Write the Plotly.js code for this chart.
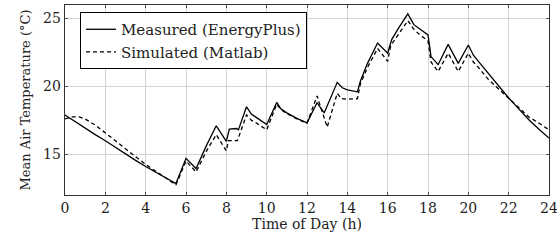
<!DOCTYPE html>
<html>
<head>
<meta charset="utf-8">
<script src="https://cdn.plot.ly/plotly-3.0.1.min.js"></script>
<style>html,body{margin:0;padding:0;background:#fff;}#chart{width:557px;height:241px;}</style>
</head>
<body>
<div id="chart"></div>
<script>
// Measured (EnergyPlus)
var measuredT = [0, 0.5, 1, 1.5, 2, 2.5, 3, 3.5, 4, 4.5, 5, 5.5, 6, 6.5, 7, 7.5, 8, 8.15, 8.5, 8.6, 9, 9.25, 9.5, 10, 10.5, 10.7, 11, 11.5, 12, 12.5, 12.85, 13.5, 13.75, 14, 14.5, 14.65, 15, 15.5, 16, 16.2, 16.5, 17, 17.3, 17.6, 18, 18.15, 18.5, 19, 19.5, 20, 20.25, 20.5, 21, 21.5, 22, 22.5, 23, 23.5, 24];
var measuredY = [17.9, 17.4, 16.95, 16.45, 16.0, 15.5, 15.05, 14.55, 14.1, 13.7, 13.3, 12.85, 14.7, 13.95, 15.6, 17.1, 15.95, 16.85, 16.9, 16.8, 18.5, 17.95, 17.7, 17.2, 18.82, 18.35, 18.05, 17.65, 17.32, 18.8, 18.05, 20.3, 19.9, 19.75, 19.6, 20.4, 21.7, 23.2, 22.45, 23.45, 24.2, 25.35, 24.55, 24.2, 23.8, 22.2, 21.6, 23.1, 21.7, 23.05, 22.3, 21.85, 20.95, 20.05, 19.15, 18.35, 17.55, 16.85, 16.2];
// Simulated (Matlab)
var simT = [0, 0.35, 0.7, 1, 1.5, 2, 2.5, 3, 3.5, 4, 4.5, 5, 5.5, 6, 6.5, 7, 7.5, 8, 8.1, 8.55, 9, 9.25, 9.5, 10, 10.5, 10.7, 11, 11.5, 12, 12.5, 13, 13.5, 13.7, 14, 14.5, 14.65, 15, 15.5, 16, 16.15, 16.5, 17, 17.3, 17.6, 18, 18.15, 18.5, 19, 19.5, 20, 20.25, 20.5, 21, 21.5, 22, 22.5, 23, 23.5, 24];
var simY = [17.6, 17.75, 17.75, 17.6, 17.15, 16.6, 16.0, 15.4, 14.8, 14.25, 13.75, 13.25, 12.75, 14.5, 13.7, 15.2, 16.45, 15.25, 16.0, 16.0, 17.9, 17.5, 17.3, 16.8, 18.7, 18.3, 18.0, 17.6, 17.3, 19.3, 17.0, 19.5, 19.1, 19.05, 19.1, 20.2, 21.4, 22.8, 21.85, 23.0, 23.8, 24.85, 24.2, 23.8, 23.35, 21.8, 21.1, 22.45, 21.1, 22.45, 21.8, 21.4, 20.5, 19.8, 19.1, 18.45, 17.75, 17.3, 16.8];

var xTicks = [0, 2, 4, 6, 8, 10, 12, 14, 16, 18, 20, 22, 24];
var yTicks = [15, 20, 25];

var serif = "DejaVu Serif";

var traces = [
  {x: measuredT, y: measuredY, type: 'scatter', mode: 'lines', name: 'Measured (EnergyPlus)',
   line: {color: '#000', width: 1.3}},
  {x: simT, y: simY, type: 'scatter', mode: 'lines', name: 'Simulated (Matlab)',
   line: {color: '#000', width: 1.3, dash: '4px,3px'}}
];

var axisCommon = {
  showgrid: true, gridcolor: '#d3d3d3', gridwidth: 1,
  showline: true, linecolor: '#333', linewidth: 1.3, mirror: 'ticks',
  ticks: 'inside', ticklen: 3, tickcolor: '#555', tickwidth: 1,
  zeroline: false, ticklabeloverflow: 'allow',
  tickfont: {family: serif, size: 14, color: '#222'}
};

var layout = {
  width: 557, height: 241,
  margin: {l: 65, r: 8, t: 5, b: 46},
  paper_bgcolor: '#fff', plot_bgcolor: '#fff',
  font: {family: serif, size: 14, color: '#222'},
  showlegend: true,
  legend: {x: 0.031, y: 0.963, xanchor: 'left', yanchor: 'top',
           bgcolor: '#fff', bordercolor: '#000', borderwidth: 1,
           font: {family: serif, size: 15, color: '#222'},
           tracegroupgap: 0, itemwidth: 30},
  xaxis: Object.assign({}, axisCommon, {
    range: [0, 24], tickvals: xTicks, ticktext: xTicks.map(String),
    title: {text: 'Time of Day (h)', font: {family: serif, size: 14, color: '#222'}, standoff: 3}
  }),
  yaxis: Object.assign({}, axisCommon, {
    range: [12, 26], tickvals: yTicks, ticktext: yTicks.map(String),
    title: {text: 'Mean Air Temperature (°C)', font: {family: serif, size: 13, color: '#222'}, standoff: 9}
  })
};

Plotly.newPlot('chart', traces, layout, {staticPlot: true, displayModeBar: false});
</script>
</body>
</html>
